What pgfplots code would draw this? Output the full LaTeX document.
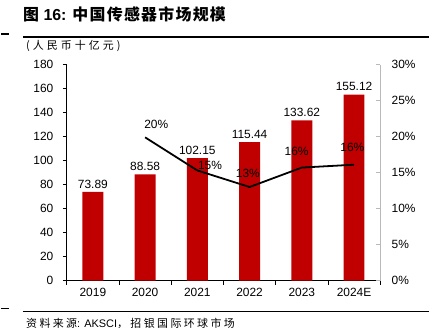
\documentclass[border=0pt]{standalone}
\usepackage{fontspec}
\setmainfont{Liberation Sans}
\newfontfamily\cjk{Noto Sans CJK SC}
\newfontfamily\cjkt[LetterSpace=8]{Noto Sans CJK SC}
\newfontfamily\cjku[LetterSpace=28]{Noto Sans CJK SC}
\newfontfamily\cjks[LetterSpace=22]{Noto Sans CJK SC}
\usepackage{pgfplots}
\pgfplotsset{compat=1.18}
\definecolor{barred}{HTML}{C00000}
\newcommand{\tf}{\fontsize{12}{14}\selectfont}
\begin{document}
\begin{tikzpicture}
\fill[white] (0pt,0pt) rectangle (430pt,337pt);
% title and rules
\node[anchor=west,inner sep=0] at (22pt,323pt) {\fontsize{16}{18}\selectfont\bfseries{\cjkt 图} 16: {\cjkt 中国传感器市场规模}};
\draw[line width=2.2pt] (22pt,300pt) -- (430pt,300pt);
\draw[line width=2.2pt] (0pt,303pt) -- (8pt,303pt);
\draw[line width=1.6pt] (22pt,24pt) -- (430pt,24pt);
\draw[line width=1.6pt] (0pt,27pt) -- (8pt,27pt);
\node[anchor=west,inner sep=0] at (25pt,291pt) {\fontsize{11}{13}\selectfont\cjku (人民币十亿元)};
\node[anchor=west,inner sep=0] at (25pt,12pt) {\fontsize{11}{13}\selectfont{\cjks 资料来源}: AKSCI{\cjks ，招银国际环球市场}};
\begin{axis}[
  at={(66pt,55pt)}, anchor=south west,
  width=315pt, height=217pt, scale only axis,
  xmin=-0.5, xmax=5.5, ymin=0, ymax=180,
  ytick={0,20,...,180},
  xtick={0,...,5},
  xticklabels={2019,2020,2021,2022,2023,2024E},
  major x tick style={draw=none},
  minor xtick={-0.5,0.5,...,5.5},
  minor tick length=4pt,
  major tick length=4pt,
  tick align=outside,
  axis x line*=bottom, axis y line*=left,
  axis line style={-, black, line width=0.8pt},
  tick style={black, line width=0.8pt},
  ticklabel style={font=\tf},
  yticklabel style={xshift=-6pt},
  /pgf/number format/assume math mode=true,
  clip=false,
]
\addplot[ybar, bar width=21pt, fill=barred, draw=none,
  nodes near coords,
  nodes near coords style={font=\tf, black, /pgf/number format/.cd, fixed, precision=2, fixed zerofill, assume math mode=true}]
  coordinates {(0,73.89) (1,88.58) (2,102.15) (3,115.44) (4,133.62) (5,155.12)};
\end{axis}
\begin{axis}[
  at={(66pt,55pt)}, anchor=south west,
  width=315pt, height=217pt, scale only axis,
  xmin=-0.5, xmax=5.5, ymin=0, ymax=30,
  axis x line=none, axis y line*=right,
  ytick={0,5,...,30},
  yticklabel={\pgfmathprintnumber{\tick}\%},
  y axis line style={-, gray!55, line width=0.8pt},
  ytick style={gray!55, line width=0.8pt},
  tick align=inside, major tick length=4pt,
  ticklabel style={font=\tf},
  yticklabel style={xshift=8pt},
  /pgf/number format/assume math mode=true,
  clip=false,
]
\addplot[black, line width=1.8pt, mark=none] coordinates {(1,19.9) (2,15.3) (3,13.0) (4,15.7) (5,16.1)};
\node[font=\tf] at (axis cs:1.214,21.7) {20\%};
\node[font=\tf] at (axis cs:2.243,16.04) {15\%};
\node[font=\tf] at (axis cs:2.967,14.93) {13\%};
\node[font=\tf] at (axis cs:3.9,17.97) {16\%};
\node[font=\tf] at (axis cs:4.967,18.53) {16\%};
\end{axis}
\end{tikzpicture}
\end{document}
